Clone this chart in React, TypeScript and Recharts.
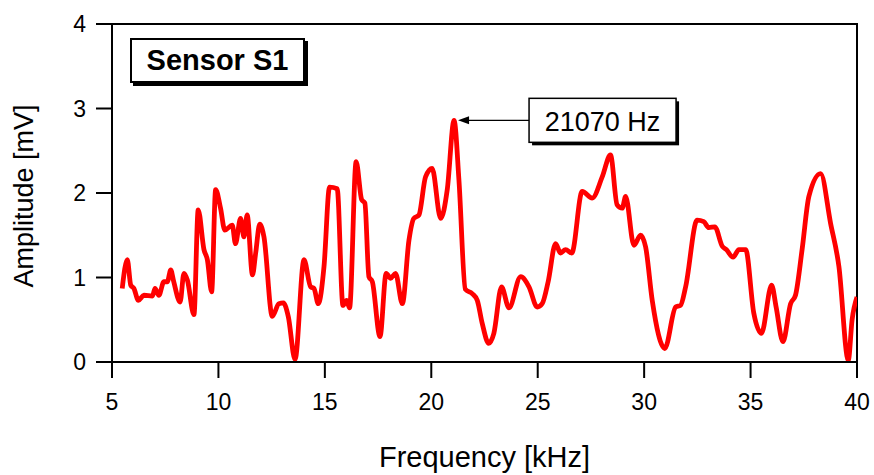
import React from "react"
import { LineChart, Line, XAxis, YAxis, ReferenceArea, ReferenceDot, Label } from "recharts"

// spectrum: frequency in kHz, amplitude in mV
const freqKHz = [
    5.48, 5.72, 5.88, 6.03, 6.24, 6.5, 6.9, 7.02, 7.2, 7.44, 7.6, 7.76, 7.9, 8.2, 8.38, 8.54, 8.85,
    9.05, 9.32, 9.48, 9.68, 9.87, 10.1, 10.3, 10.65, 10.8, 11.04, 11.2, 11.35, 11.6, 11.75, 11.94,
    12.14, 12.53, 12.84, 13.05, 13.28, 13.6, 14.02, 14.33, 14.49, 14.69, 14.96, 15.22, 15.58, 15.85,
    16.02, 16.16, 16.47, 16.73, 16.88, 17.07, 17.23, 17.59, 17.88, 18.09, 18.32, 18.64, 18.95, 19.18,
    19.42, 19.73, 20.04, 20.44, 20.75, 21.07, 21.3, 21.6, 21.92, 22.16, 22.39, 22.7, 22.94, 23.3,
    23.65, 24.2, 24.59, 24.98, 25.21, 25.49, 25.84, 26.07, 26.31, 26.6, 27.09, 27.56, 28.03, 28.42,
    28.73, 28.97, 29.13, 29.52, 29.83, 30.07, 30.38, 30.97, 31.48, 31.71, 31.95, 32.49, 32.8, 33.04,
    33.32, 33.67, 33.86, 34.18, 34.45, 34.77, 35.15, 35.51, 35.99, 36.2, 36.52, 36.88, 37.11, 37.42,
    37.74, 38.29, 38.76, 39.15, 39.59, 39.77, 40.0,
]
const amplitudeMV = [
    0.87, 1.21, 0.91, 0.87, 0.73, 0.79, 0.78, 0.87, 0.79, 0.95, 0.95, 1.09, 0.95, 0.71, 1.05, 0.97, 0.56,
    1.8, 1.33, 1.21, 0.83, 2.04, 1.82, 1.56, 1.62, 1.4, 1.7, 1.48, 1.74, 1.03, 1.29, 1.63,
    1.48, 0.54, 0.69, 0.7, 0.54, 0.03, 1.21, 0.89, 0.87, 0.69, 1.13, 2.07, 2.05, 0.67,
    0.73, 0.64, 2.37, 1.92, 1.88, 1.01, 0.95, 0.3, 1.05, 0.99, 1.05, 0.69, 1.44, 1.7,
    1.74, 2.19, 2.29, 1.7, 2.04, 2.86, 2.15, 0.86, 0.81, 0.73, 0.46, 0.22, 0.34, 0.89,
    0.64, 1.01, 0.89, 0.65, 0.69, 0.95, 1.4, 1.29, 1.33, 1.29, 2.02, 1.94, 2.19, 2.45,
    1.86, 1.82, 1.96, 1.38, 1.5, 1.36, 0.73, 0.16, 0.65, 0.67, 0.89, 1.68, 1.66, 1.59,
    1.6, 1.37, 1.33, 1.24, 1.33, 1.33, 0.58, 0.34, 0.91, 0.65, 0.24, 0.69, 0.79, 1.33,
    1.96, 2.23, 1.64, 1.13, 0.02, 0.5, 0.77,
]
const xTicks = [5, 10, 15, 20, 25, 30, 35, 40]
const yTicks = [0, 1, 2, 3, 4]
const peakFreqKHz = 21.07
const peakAmplitude = 2.86
const peakLabel = "21070 Hz"
const sensorName = "Sensor S1"

const data = freqKHz.map((f, i) => ({ f, a: amplitudeMV[i] }))

const FONT = "'Liberation Sans', Arial, sans-serif"

const PeakCallout = (props: any) => {
    const { cx, cy } = props
    const bx = cx + 75
    const bw = 147
    const bh = 44
    return (
        <g>
            <line x1={cx + 10} y1={cy} x2={bx} y2={cy} stroke="#000" strokeWidth={1.2} />
            <polygon points={`${cx + 4},${cy} ${cx + 15},${cy - 4} ${cx + 15},${cy + 4}`} fill="#000" />
            <rect x={bx + 3} y={cy - bh / 2 + 3} width={bw} height={bh} fill="#000" />
            <rect x={bx} y={cy - bh / 2} width={bw} height={bh} fill="#fff" stroke="#000" strokeWidth={1.5} />
            <text x={bx + bw / 2} y={cy + 10.5} textAnchor="middle" fontSize={27} fontFamily={FONT} fill="#000">
                {peakLabel}
            </text>
        </g>
    )
}

export default function App() {
    const axisLine = { stroke: "#000", strokeWidth: 2 }
    const tick = { fill: "#000", fontSize: 23, fontFamily: FONT }

    return (
        <div style={{ position: "absolute", left: 0, top: 0, width: 874, height: 475, background: "#fff" }}>
            <LineChart width={874} height={475} data={data} margin={{ top: 24, right: 17, bottom: 0, left: 0 }}>
                <ReferenceArea x1={5} x2={40} y1={0} y2={4} fill="none" stroke="#000" strokeWidth={2} ifOverflow="visible" />
                <XAxis
                    dataKey="f"
                    type="number"
                    domain={[5, 40]}
                    ticks={xTicks}
                    height={113}
                    tickSize={16}
                    tickMargin={16}
                    axisLine={axisLine}
                    tickLine={axisLine}
                    tick={tick}
                    allowDataOverflow
                >
                    <Label
                        content={(p: any) => {
                            const vb = p.viewBox
                            return (
                                <text x={vb.x + vb.width / 2} y={467} textAnchor="middle" fontSize={29} fontFamily={FONT} fill="#000">
                                    Frequency [kHz]
                                </text>
                            )
                        }}
                    />
                </XAxis>
                <YAxis
                    type="number"
                    domain={[0, 4]}
                    ticks={yTicks}
                    width={112}
                    tickSize={16}
                    tickMargin={10}
                    axisLine={axisLine}
                    tickLine={axisLine}
                    tick={tick}
                    allowDataOverflow
                >
                    <Label
                        content={(p: any) => {
                            const vb = p.viewBox
                            const cy = vb.y + vb.height / 2 + 3
                            return (
                                <text
                                    x={33}
                                    y={cy}
                                    transform={`rotate(-90, 33, ${cy})`}
                                    textAnchor="middle"
                                    fontSize={27}
                                    fontFamily={FONT}
                                    fill="#000"
                                >
                                    Amplitude [mV]
                                </text>
                            )
                        }}
                    />
                </YAxis>
                <Line
                    type="monotone"
                    dataKey="a"
                    stroke="#ff0000"
                    strokeWidth={4.8}
                    dot={false}
                    activeDot={false}
                    isAnimationActive={false}
                />
                <ReferenceDot x={peakFreqKHz} y={peakAmplitude} shape={PeakCallout} ifOverflow="visible" />
            </LineChart>
            <div
                style={{
                    position: "absolute",
                    left: 130,
                    top: 38,
                    width: 171,
                    height: 41,
                    border: "2px solid #000",
                    boxShadow: "3px 3px 0 #000",
                    background: "#fff",
                    fontFamily: FONT,
                    fontWeight: "bold",
                    fontSize: 29,
                    lineHeight: "41px",
                    textAlign: "center",
                    color: "#000",
                }}
            >
                {sensorName}
            </div>
        </div>
    )
}
